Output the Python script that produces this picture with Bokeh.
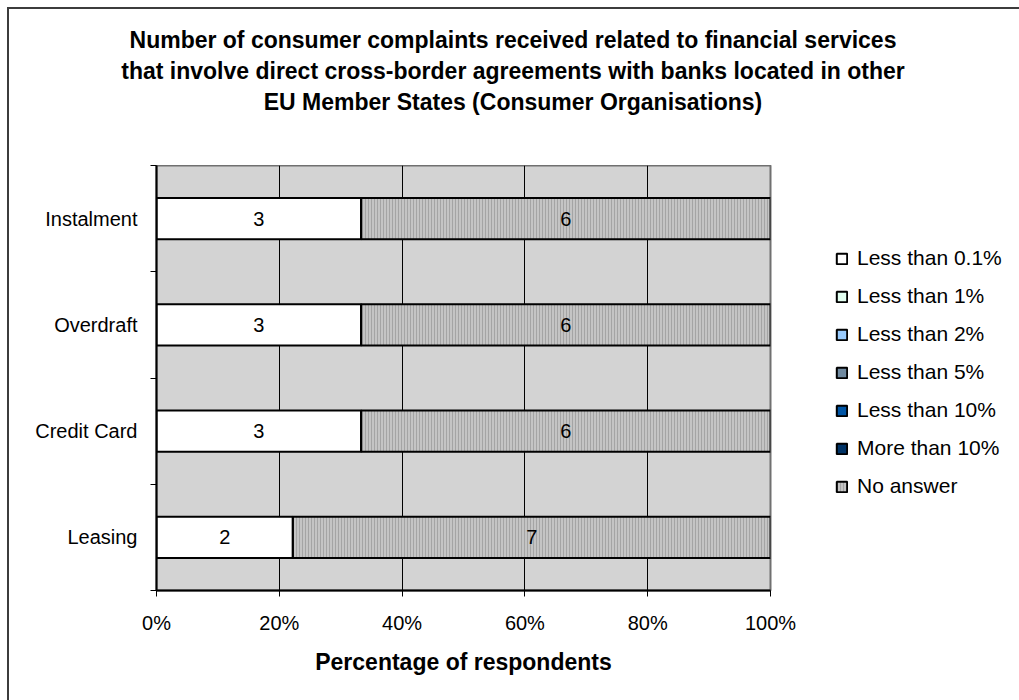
from bokeh.plotting import figure
from bokeh.models import (Range1d, FixedTicker, NumeralTickFormatter, Legend,
                          LegendItem, ColumnDataSource, Div, Row, Column)
from bokeh.transform import stack
from bokeh.core.properties import value
from bokeh.embed import file_html
from bokeh.resources import INLINE

# ---------------- data ----------------
categories = ["Instalment", "Overdraft", "Credit Card", "Leasing"]  # top to bottom
series_names = ["Less than 0.1%", "Less than 1%", "Less than 2%", "Less than 5%",
                "Less than 10%", "More than 10%", "No answer"]
lt_0_1 = [3, 3, 3, 2]
lt_1 = [0, 0, 0, 0]
lt_2 = [0, 0, 0, 0]
lt_5 = [0, 0, 0, 0]
lt_10 = [0, 0, 0, 0]
mt_10 = [0, 0, 0, 0]
no_answer = [6, 6, 6, 7]
x_ticks = [0, 0.2, 0.4, 0.6, 0.8, 1.0]
title_lines = ["Number of consumer complaints received related to financial services",
               "that involve direct cross-border agreements with banks located in other",
               "EU Member States (Consumer Organisations)"]
x_title = "Percentage of respondents"

series_counts = [lt_0_1, lt_1, lt_2, lt_5, lt_10, mt_10, no_answer]
colors = ["#ffffff", "#e2fff0", "#99ccff", "#708aa0", "#0055a5", "#003366", "#c4c4c4"]
keys = ["s%d" % i for i in range(len(series_names))]

n = len(categories)
ypos = [n - 1 - i + 0.5 for i in range(n)]
totals = [sum(s[i] for s in series_counts) for i in range(n)]

data = {"y": ypos}
for k, s in zip(keys, series_counts):
    data[k] = [s[i] / totals[i] for i in range(n)]
source = ColumnDataSource(data)

FONT = "Liberation Sans"

# ---------------- layout (page pixels) ----------------
X0, Y0 = 9, 9                 # inside of the outer border
INNER_W = 1012
TITLE_H = 156
PLOT_L, PLOT_R, PLOT_T, PLOT_B = 156, 770, 165, 590
MAIN_PAD_R = 30
MAIN_W = PLOT_R - X0 + MAIN_PAD_R
LEG_W = INNER_W - MAIN_W
BODY_H = 700 - TITLE_H
LEGEND_GLYPH_X, LEGEND_BOTTOM = 835, 498


def hatch_kw(name):
    if name == "No answer":
        return dict(hatch_pattern="vertical_line", hatch_color="#a4a4a4",
                    hatch_scale=3, hatch_weight=1)
    return {}


# ---------------- title ----------------
title_html = ('<div style="text-align:center; width:100%; font-family:\'Liberation Sans\';'
              'font-weight:bold; font-size:23px; line-height:31px; color:black;">'
              + "<br>".join(title_lines) + "</div>")
title_div = Div(text=title_html, width=INNER_W, height=TITLE_H, margin=0,
                styles={"padding-top": "16px", "padding-right": "4px",
                        "box-sizing": "border-box", "text-align": "center",
                        "font-family": FONT, "font-weight": "bold",
                        "font-size": "23px", "line-height": "31px", "color": "black"})

# ---------------- main plot ----------------
p = figure(width=MAIN_W, height=BODY_H, x_range=Range1d(0, 1), y_range=Range1d(0, n),
           output_backend="svg", toolbar_location=None,
           min_border_left=PLOT_L - X0, min_border_right=MAIN_PAD_R, min_border_top=0,
           min_border_bottom=Y0 + TITLE_H + BODY_H - PLOT_B,
           background_fill_color="#d3d3d3", border_fill_color="white")
p.outline_line_color = "#707070"
p.outline_line_width = 2

for i, k in enumerate(keys):
    left = 0 if i == 0 else stack(*keys[:i])
    p.hbar(y="y", left=left, right=stack(*keys[:i + 1]), height=0.39,
           source=source, fill_color=colors[i], line_color="black",
           line_width=2, **hatch_kw(series_names[i]))

# value labels
lx, ly, lt = [], [], []
for ci in range(n):
    cum = 0
    for s in series_counts:
        c = s[ci]
        if c > 0:
            lx.append((cum + c / 2) / totals[ci])
            ly.append(ypos[ci])
            lt.append(str(c))
        cum += c
p.text(x=lx, y=ly, text=lt, text_align="center", text_baseline="middle",
       text_font=value(FONT), text_font_size="20px", text_color="black")

p.xgrid.ticker = FixedTicker(ticks=x_ticks)
p.xgrid.grid_line_color = "black"
p.xgrid.grid_line_width = 1
p.ygrid.grid_line_color = None

xa = p.xaxis[0]
xa.ticker = FixedTicker(ticks=x_ticks)
xa.formatter = NumeralTickFormatter(format="0%")
xa.major_tick_out = 6
xa.major_tick_in = 0
xa.minor_tick_line_color = None
xa.axis_line_color = "black"
xa.axis_line_width = 2
xa.major_tick_line_color = "black"
xa.major_label_text_font = FONT
xa.major_label_text_font_size = "20px"
xa.major_label_text_color = "black"
xa.major_label_standoff = 15
xa.axis_label = x_title
xa.axis_label_text_font = FONT
xa.axis_label_text_font_style = "bold"
xa.axis_label_text_font_size = "23px"
xa.axis_label_text_color = "black"
xa.axis_label_standoff = 12

ya = p.yaxis[0]
ya.ticker = FixedTicker(ticks=ypos, minor_ticks=list(range(n + 1)))
ya.major_label_overrides = {ypos[i]: categories[i] for i in range(n)}
ya.major_tick_line_color = None
ya.major_tick_out = 0
ya.major_tick_in = 0
ya.minor_tick_line_color = "black"
ya.minor_tick_out = 6
ya.minor_tick_in = 0
ya.axis_line_color = "black"
ya.axis_line_width = 2
ya.major_label_text_font = FONT
ya.major_label_text_font_size = "20px"
ya.major_label_text_color = "black"
ya.major_label_standoff = 13

# ---------------- legend panel (frame aligned with main plot frame) ----------------
pl = figure(width=LEG_W, height=BODY_H, x_range=Range1d(0, 1), y_range=Range1d(0, n),
            output_backend="svg", toolbar_location=None, min_border=0,
            x_axis_location=None, y_axis_location=None,
            background_fill_color="white", border_fill_color="white")
pl.outline_line_color = None
pl.xgrid.grid_line_color = None
pl.ygrid.grid_line_color = None
leg_renderers = []
for i, k in enumerate(keys):
    left = 0 if i == 0 else stack(*keys[:i])
    r = pl.hbar(y="y", left=left, right=stack(*keys[:i + 1]), height=0.39,
                source=source, fill_color=colors[i], line_color="black",
                line_width=2, visible=False, **hatch_kw(series_names[i]))
    leg_renderers.append(r)

leg_x0 = MAIN_W + X0           # page x of legend panel's left edge
items = [LegendItem(label=nm, renderers=[r]) for nm, r in zip(series_names, leg_renderers)]
legend = Legend(items=items, location=(LEGEND_GLYPH_X - leg_x0, PLOT_B - LEGEND_BOTTOM),
                glyph_width=13, glyph_height=13,
                label_text_font=FONT, label_text_font_size="21px",
                label_text_color="black", inactive_fill_alpha=0,
                label_standoff=9, label_height=24, spacing=14, padding=0, margin=0,
                border_line_color=None, background_fill_alpha=0)
pl.add_layout(legend, "center")

body = Row(children=[p, pl], spacing=0)
layout = Column(children=[title_div, body], spacing=0,
                styles={"border": "2px solid #3c3c3c", "margin": "7px 0 0 7px"})

open("out.html", "w").write(file_html(layout, INLINE))
